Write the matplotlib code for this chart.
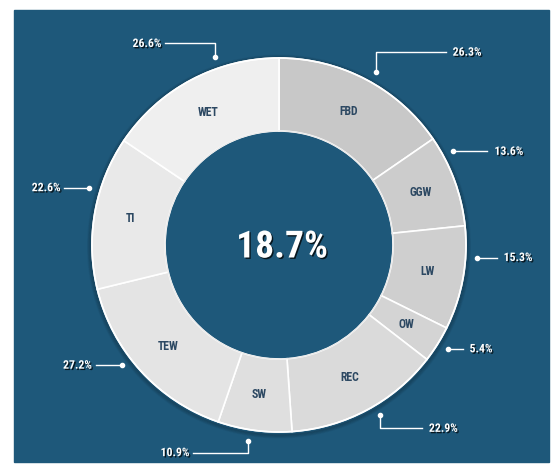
import matplotlib
matplotlib.use("Agg")
import matplotlib.pyplot as plt
import matplotlib.patheffects as pe
from matplotlib import font_manager
from matplotlib.patches import Rectangle, Circle
import numpy as np

# data (clockwise from 12 o'clock)
categories = ["FBD", "GGW", "LW", "OW", "REC", "SW", "TEW", "TI", "WET"]
values = [26.3, 13.6, 15.3, 5.4, 22.9, 10.9, 27.2, 22.6, 26.6]
center_value = "18.7%"

# segment shades, darkest to lightest going round
shades = ["#c8c8c8", "#cccccc", "#cfcfcf", "#d4d4d4", "#dadada",
          "#dfdfdf", "#e4e4e4", "#e9e9e9", "#efefef"]

# leader layout: angle nudge from wedge middle, elbow (dx, dy) and side of text
leaders = {
    "FBD": (-1.5, (0, 20), (70, 0), "left"),
    "GGW": (8.0, (0, 0), (34, 0), "left"),
    "LW": (6.6, (0, 0), (20, 0), "left"),
    "OW": (0.4, (0, 0), (15, 0), "left"),
    "REC": (2.5, (0, -13), (42, 0), "left"),
    "SW": (-1.4, (0, -12), (-55, 0), "right"),
    "TEW": (-5.0, (0, 0), (-26, 0), "right"),
    "TI": (-6.7, (0, 0), (-25, 0), "right"),
    "WET": (-9.3, (0, 14), (-50, 0), "right"),
}

# pick a narrow face if one is around
names = {f.name for f in font_manager.fontManager.ttflist}
narrow_fam, stretch = "DejaVu Sans", "normal"
for cand in ["Roboto Condensed", "Noto Sans Condensed", "Liberation Sans Narrow",
             "Open Sans Condensed", "DejaVu Sans Condensed"]:
    if cand in names:
        narrow_fam = cand
        break
else:
    for f in font_manager.fontManager.ttflist:
        if f.name in ("Noto Sans", "Roboto", "Open Sans", "DejaVu Sans") and \
                str(f.stretch) in ("condensed", "semi-condensed", "extra-condensed"):
            narrow_fam, stretch = f.name, "condensed"
            break
found = narrow_fam != "DejaVu Sans" or stretch == "condensed"

W, H = 552, 470
cx, cy = 279, H - 245
R, r_in = 187, 114
bg = "#1e587a"
navy = "#2c4862"

fig = plt.figure(figsize=(W / 100, H / 100), dpi=100)
ax = fig.add_axes([0, 0, 1, 1])
ax.axis("off")

ax.add_patch(Rectangle((14, H - 462), 535, 452, color=bg, zorder=0))

# soft shadow round the outer edge
for k in range(5):
    ax.add_patch(Circle((cx, cy - 1.5), R + 1 + k * 0.8, fill=False, ec="black",
                        lw=1.2, alpha=0.12 - k * 0.02, zorder=1))

wedges, _ = ax.pie(values, radius=R, center=(cx, cy), startangle=90,
                   counterclock=False, colors=shades,
                   wedgeprops=dict(width=R - r_in, edgecolor="white", linewidth=1.2))
for w in wedges:
    w.set_zorder(2)
ax.add_patch(Circle((cx, cy), R, fill=False, ec="white", lw=1.2, zorder=3))
ax.add_patch(Circle((cx, cy), r_in, fill=False, ec="#e8e8e8", lw=0.8, zorder=3))

ax.set_xlim(0, W)
ax.set_ylim(0, H)
ax.set_aspect("equal")

shadow = [pe.withSimplePatchShadow(offset=(1, -1), shadow_rgbFace="black", alpha=0.75)]
small = 8.5 if found else 7

total = sum(values)
start = 90.0
for cat, val in zip(categories, values):
    span = val / total * 360
    mid = start - span / 2
    start -= span
    a = np.radians(mid)
    lr = (R + r_in) / 2
    ax.text(cx + lr * np.cos(a), cy + lr * np.sin(a), cat, color=navy,
            fontsize=small, fontweight="bold", family=narrow_fam, fontstretch=stretch,
            ha="center", va="center", zorder=4)

    nudge, (ex, ey), (hx, hy), side = leaders[cat]
    b = np.radians(mid + nudge)
    dx0, dy0 = cx + (R + 11) * np.cos(b), cy + (R + 11) * np.sin(b)
    x1, y1 = dx0 + ex, dy0 + ey
    x2, y2 = x1 + hx, y1 + hy
    ax.plot([dx0, x1, x2], [dy0, y1, y2], color="white", lw=1, zorder=4)
    ax.plot(dx0, dy0, "o", color="white", ms=3, zorder=4)
    tx = x2 + (7 if side == "left" else -4)
    ax.text(tx, y2, f"{val:.1f}%", color="white", fontsize=small, fontweight="bold",
            family=narrow_fam, fontstretch=stretch, ha=side, va="center",
            path_effects=shadow, zorder=4)

ax.text(cx + 3, cy - 2, center_value, color="white",
        fontsize=27 if found else 22, fontweight="bold",
        family=narrow_fam, fontstretch=stretch, ha="center", va="center",
        path_effects=shadow, zorder=4)

fig.savefig("out.png", dpi=100, facecolor="white")
